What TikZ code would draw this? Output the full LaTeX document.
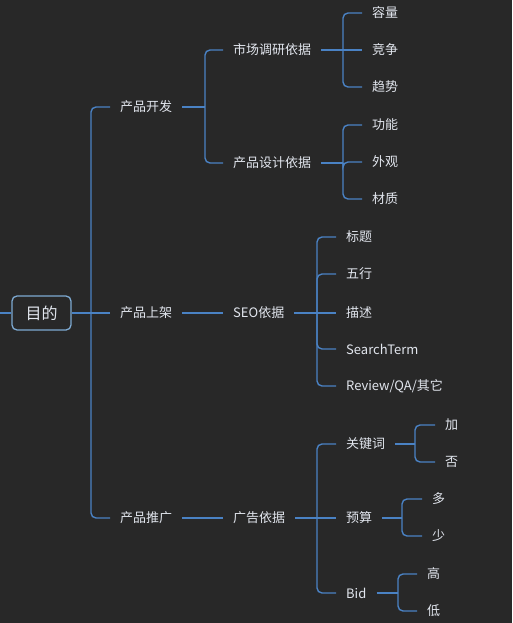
\documentclass[tikz,border=0pt]{standalone}
\usepackage{fontspec}
\setmainfont{Noto Sans CJK SC}
\definecolor{bg}{HTML}{282828}
\definecolor{ln}{HTML}{4A82C4}
\definecolor{rootln}{HTML}{7EAAD2}
\definecolor{txt}{HTML}{E2E6EE}
\begin{document}
\begin{tikzpicture}[x=1pt,y=-1pt,
  every node/.style={text=txt,font=\fontsize{13}{15}\selectfont},
  topic/.style={anchor=west,inner xsep=10pt,inner ysep=2pt},
  rootbox/.style={draw=rootln,line width=1.3pt,rounded corners=5pt,minimum width=59pt,minimum height=34pt,inner sep=0pt,font=\fontsize{16}{18}\selectfont},
  conn/.style={draw=ln,line width=1.4pt},
  elbow/.style={conn,rounded corners=5pt}]
\fill[bg] (0,0) rectangle (512,623);
\useasboundingbox (0,0) rectangle (512,623);

% root
\node[rootbox] (root) at (41.5,313) {目的};
\coordinate (stub) at (0,313);
\draw[conn] (stub) -- (root.west);

% level 1
\node[topic] (kf) at (110,107) {产品开发};
\node[topic] (sj) at (110,313) {产品上架};
\node[topic] (tg) at (110,518) {产品推广};
\coordinate (j0) at (91,313);
\draw[conn] (root.east) -- (j0);
\draw[elbow] (j0) |- (kf.west);
\draw[conn] (j0) -- (sj.west);
\draw[elbow] (j0) |- (tg.west);

% level 2
\node[topic] (sc) at (223,50) {市场调研依据};
\node[topic] (sd) at (223,163) {产品设计依据};
\node[topic] (seo) at (223,313) {SEO依据};
\node[topic] (gg) at (223,518) {广告依据};
\coordinate (j1) at (205,107);
\draw[conn] (kf.east) -- (j1);
\draw[elbow] (j1) |- (sc.west);
\draw[elbow] (j1) |- (sd.west);
\draw[conn] (sj.east) -- (seo.west);
\draw[conn] (tg.east) -- (gg.west);

% level 3 : market
\node[topic] (rl) at (362,13) {容量};
\node[topic] (jz) at (362,50) {竞争};
\node[topic] (qs) at (362,87) {趋势};
\coordinate (j2) at (343,50);
\draw[conn] (sc.east) -- (j2);
\draw[elbow] (j2) |- (rl.west);
\draw[conn] (j2) -- (jz.west);
\draw[elbow] (j2) |- (qs.west);

% level 3 : design
\node[topic] (gn) at (362,125) {功能};
\node[topic] (wg) at (362,162) {外观};
\node[topic] (cz) at (362,199) {材质};
\coordinate (j3) at (343,163);
\draw[conn] (sd.east) -- (j3);
\draw[elbow] (j3) |- (gn.west);
\draw[elbow] (j3) |- (wg.west);
\draw[elbow] (j3) |- (cz.west);

% level 3 : SEO
\node[topic] (bt) at (336,237) {标题};
\node[topic] (wh) at (336,274) {五行};
\node[topic] (ms) at (336,313) {描述};
\node[topic] (st) at (336,349) {SearchTerm};
\node[topic] (rv) at (336,386) {Review/QA/其它};
\coordinate (j4) at (317,313);
\draw[conn] (seo.east) -- (j4);
\draw[elbow] (j4) |- (bt.west);
\draw[elbow] (j4) |- (wh.west);
\draw[conn] (j4) -- (ms.west);
\draw[elbow] (j4) |- (st.west);
\draw[elbow] (j4) |- (rv.west);

% level 3 : ads
\node[topic] (gjc) at (336,444) {关键词};
\node[topic] (ys) at (336,518) {预算};
\node[topic] (bid) at (336,593) {Bid};
\coordinate (j5) at (317,518);
\draw[conn] (gg.east) -- (j5);
\draw[elbow] (j5) |- (gjc.west);
\draw[conn] (j5) -- (ys.west);
\draw[elbow] (j5) |- (bid.west);

% level 4
\node[topic] (jia) at (435,425) {加};
\node[topic] (fou) at (435,462) {否};
\coordinate (j6) at (415,444);
\draw[conn] (gjc.east) -- (j6);
\draw[elbow] (j6) |- (jia.west);
\draw[elbow] (j6) |- (fou.west);

\node[topic] (duo) at (422,499) {多};
\node[topic] (shao) at (422,536) {少};
\coordinate (j7) at (402,518);
\draw[conn] (ys.east) -- (j7);
\draw[elbow] (j7) |- (duo.west);
\draw[elbow] (j7) |- (shao.west);

\node[topic] (gao) at (417,574) {高};
\node[topic] (di) at (417,611) {低};
\coordinate (j8) at (398,593);
\draw[conn] (bid.east) -- (j8);
\draw[elbow] (j8) |- (gao.west);
\draw[elbow] (j8) |- (di.west);
\end{tikzpicture}
\end{document}
